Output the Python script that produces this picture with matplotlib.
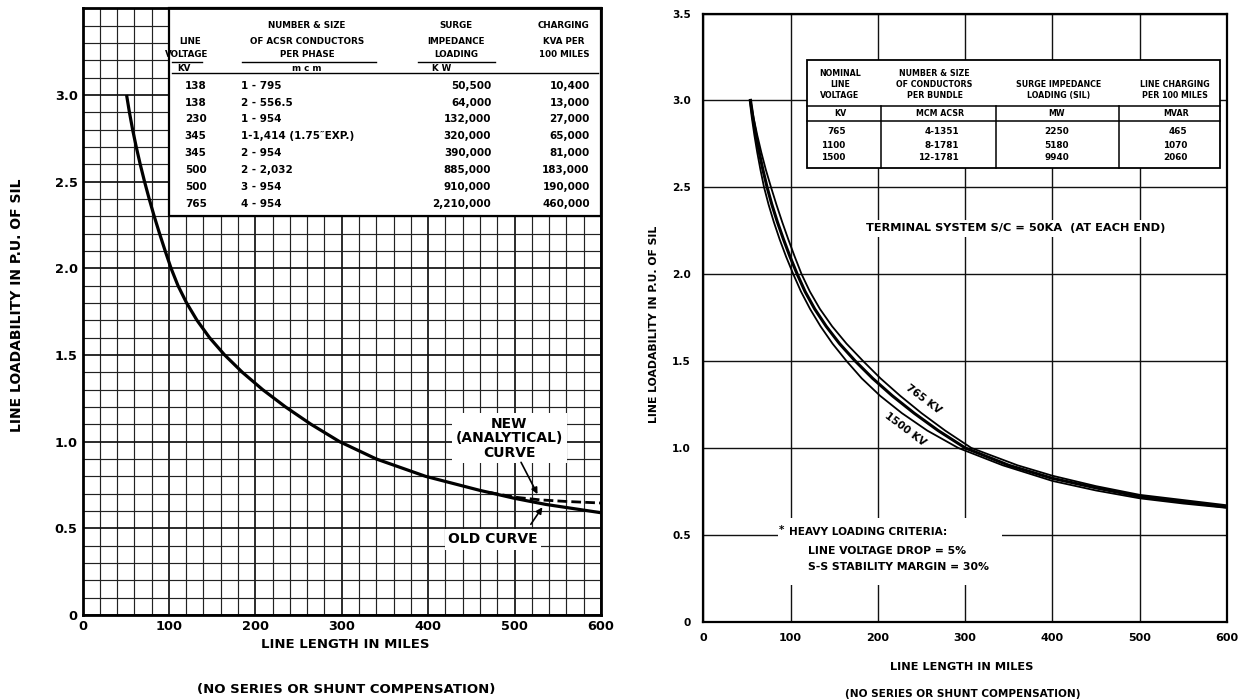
import matplotlib
matplotlib.use("Agg")
import matplotlib.pyplot as plt
from matplotlib.patches import Rectangle
from matplotlib.ticker import MultipleLocator

W, H = 1245, 700

# ---------------- LEFT CHART DATA ----------------
new_miles = [51, 54.3, 58, 62.2, 66.8, 71.8, 77.2, 83, 89.2, 95.7, 102.5, 110.5, 120.5, 132.5, 147, 164.5,
             185, 208.5, 235, 264.5, 297.5, 340, 397, 459, 500, 536, 600]
new_pu = [3.0, 2.9, 2.8, 2.7, 2.6, 2.5, 2.4, 2.3, 2.2, 2.1, 2.0, 1.9, 1.8, 1.7, 1.6, 1.5,
          1.4, 1.3, 1.2, 1.1, 1.0, 0.9, 0.8, 0.72, 0.673, 0.638, 0.59]
old_miles = [470, 500, 530, 560, 600]
old_pu = [0.708, 0.680, 0.664, 0.655, 0.646]

x_ticks = [0, 100, 200, 300, 400, 500, 600]
x_ticklabels = ["0", "100", "200", "300", "400", "500", "600"]
left_yticks = [0, 0.5, 1.0, 1.5, 2.0, 2.5, 3.0]
left_yticklabels = ["0", "0.5", "1.0", "1.5", "2.0", "2.5", "3.0"]

left_kv = ["138", "138", "230", "345", "345", "500", "500", "765"]
left_cond = ["1 - 795", "2 - 556.5", "1 - 954", "1-1,414 (1.75\u2033EXP.)", "2 - 954", "2 - 2,032",
             "3 - 954", "4 - 954"]
left_sil = ["50,500", "64,000", "132,000", "320,000", "390,000", "885,000", "910,000", "2,210,000"]
left_chg = ["10,400", "13,000", "27,000", "65,000", "81,000", "183,000", "190,000", "460,000"]

# ---------------- RIGHT CHART DATA ----------------
kv765_miles = [54, 57.5, 61.7, 66.4, 71.6, 77.5, 83.7, 90.3, 97.3, 104.7, 112.5, 122, 133.5, 147.5, 164, 183,
               203, 225.5, 250, 277, 307, 360, 400, 450, 500, 550, 600]
kv765_pu = [3.0, 2.9, 2.8, 2.7, 2.6, 2.5, 2.4, 2.3, 2.2, 2.1, 2.0, 1.9, 1.8, 1.7, 1.6, 1.5,
            1.4, 1.3, 1.2, 1.1, 1.0, 0.9, 0.84, 0.78, 0.73, 0.70, 0.67]
kv1100_miles = [54, 56.8, 60.2, 64, 68.2, 73, 78.5, 84.8, 91.8, 99.3, 107.5, 116.5, 127.5, 140.7, 156, 174,
                194, 216.5, 241.5, 269, 300, 350, 400, 450, 500, 550, 600]
kv1100_pu = [3.0, 2.9, 2.8, 2.7, 2.6, 2.5, 2.4, 2.3, 2.2, 2.1, 2.0, 1.9, 1.8, 1.7, 1.6, 1.5,
             1.4, 1.3, 1.2, 1.1, 1.0, 0.9, 0.825, 0.77, 0.72, 0.69, 0.66]
kv1500_miles = [53, 55.5, 58.4, 61.7, 65.4, 69.5, 74.7, 80.7, 87.4, 94.8, 103, 111.8, 122.2, 134.2, 148, 164,
                181.5, 202.5, 227.5, 256.5, 292, 343, 400, 450, 500, 550, 600]
kv1500_pu = [3.0, 2.9, 2.8, 2.7, 2.6, 2.5, 2.4, 2.3, 2.2, 2.1, 2.0, 1.9, 1.8, 1.7, 1.6, 1.5,
             1.4, 1.3, 1.2, 1.1, 1.0, 0.9, 0.81, 0.755, 0.71, 0.68, 0.655]

right_yticks = [0, 0.5, 1.0, 1.5, 2.0, 2.5, 3.0, 3.5]
right_yticklabels = ["0", "0.5", "1.0", "1.5", "2.0", "2.5", "3.0", "3.5"]

right_kv = ["765", "1100", "1500"]
right_cond = ["4-1351", "8-1781", "12-1781"]
right_sil = ["2250", "5180", "9940"]
right_mvar = ["465", "1070", "2060"]

plt.rcParams['font.family'] = ['DejaVu Sans']
plt.rcParams['font.weight'] = 'bold'

fig = plt.figure(figsize=(W / 100, H / 100), dpi=100)


def px_axes(x0, x1, y0, y1):
    return fig.add_axes([x0 / W, 1 - y1 / H, (x1 - x0) / W, (y1 - y0) / H])


def fig_text(px, py, s, **kw):
    fig.text(px / W, 1 - py / H, s, ha='center', va='center', fontweight='bold', **kw)


# =============== LEFT CHART ===============
axL = px_axes(82.5, 601, 8.3, 615)
axL.set_xlim(0, 600)
axL.set_ylim(0, 3.5)
axL.set_xticks(x_ticks)
axL.set_xticklabels(x_ticklabels, fontsize=9.3, fontweight='bold')
axL.set_yticks(left_yticks)
axL.set_yticklabels(left_yticklabels, fontsize=9.3, fontweight='bold')
axL.xaxis.set_minor_locator(MultipleLocator(20))
axL.yaxis.set_minor_locator(MultipleLocator(0.1))
axL.tick_params(which='both', length=0)
axL.tick_params(axis='x', pad=3.5)
axL.tick_params(axis='y', pad=3.5)
axL.set_axisbelow(True)
axL.grid(which='major', color='#111111', lw=1.25)
axL.grid(which='minor', color='#222222', lw=0.85)
for s in axL.spines.values():
    s.set_linewidth(2.0)

axL.plot(new_miles, new_pu, color='black', lw=2.3, zorder=4, solid_capstyle='butt',
         solid_joinstyle='round')
axL.plot(old_miles, old_pu, color='black', lw=2.0, ls=(0, (3.5, 1.5)), zorder=4)

# table
axL.add_patch(Rectangle((100, 2.3), 500, 1.2, fc='white', ec='black', lw=1.6, zorder=2, clip_on=False))
hdr_kw = dict(fontsize=6.3, fontweight='bold', ha='center', va='center', zorder=3)
axL.text(124, 3.31, "LINE", **hdr_kw)
axL.text(121, 3.235, "VOLTAGE", **hdr_kw)
axL.text(260, 3.40, "NUMBER & SIZE", **hdr_kw)
axL.text(260, 3.31, "OF ACSR CONDUCTORS", **hdr_kw)
axL.text(260, 3.235, "PER PHASE", **hdr_kw)
axL.text(432, 3.40, "SURGE", **hdr_kw)
axL.text(432, 3.31, "IMPEDANCE", **hdr_kw)
axL.text(432, 3.235, "LOADING", **hdr_kw)
axL.text(557, 3.40, "CHARGING", **hdr_kw)
axL.text(557, 3.31, "KVA PER", **hdr_kw)
axL.text(557, 3.235, "100 MILES", **hdr_kw)
axL.text(117, 3.155, "KV", **hdr_kw)
axL.text(260, 3.155, "m c m", **hdr_kw)
axL.text(416, 3.155, "K W", **hdr_kw)
for x0, x1 in [(104, 138), (185, 340), (388, 477)]:
    axL.plot([x0, x1], [3.19, 3.19], color='black', lw=1.0, zorder=3)
axL.plot([104, 597], [3.127, 3.127], color='black', lw=1.0, zorder=3)

row_y = [3.05, 2.955, 2.86, 2.765, 2.665, 2.57, 2.47, 2.37]
dat_kw = dict(fontsize=7.5, fontweight='bold', va='center', zorder=3)
for i, y in enumerate(row_y):
    axL.text(131, y, left_kv[i], ha='center', **dat_kw)
    axL.text(183, y, left_cond[i], ha='left', **dat_kw)
    axL.text(473, y, left_sil[i], ha='right', **dat_kw)
    axL.text(587, y, left_chg[i], ha='right', **dat_kw)

# annotations
box = dict(boxstyle='square,pad=0.25', fc='white', ec='none')
axL.text(494, 1.02, "NEW\n(ANALYTICAL)\nCURVE", ha='center', va='center', fontsize=10,
         fontweight='bold', linespacing=1.05, bbox=box, zorder=3)
axL.text(475, 0.437, "OLD CURVE", ha='center', va='center', fontsize=10, fontweight='bold',
         bbox=box, zorder=3)
axL.annotate("", xy=(528, 0.683), xytext=(506, 0.895),
             arrowprops=dict(arrowstyle='-|>', color='black', lw=1.2, mutation_scale=9), zorder=5)
axL.annotate("", xy=(534, 0.635), xytext=(517, 0.51),
             arrowprops=dict(arrowstyle='-|>', color='black', lw=1.2, mutation_scale=9), zorder=5)

fig_text(17, 305, "LINE LOADABILITY IN P.U. OF SIL", fontsize=10, rotation=90)
fig_text(345, 645, "LINE LENGTH IN MILES", fontsize=9.5)
fig_text(346, 689, "(NO SERIES OR SHUNT COMPENSATION)", fontsize=9.5)

# =============== RIGHT CHART ===============
axR = px_axes(703.4, 1227, 13.5, 621.7)
axR.set_xlim(0, 600)
axR.set_ylim(0, 3.5)
axR.set_xticks(x_ticks)
axR.set_xticklabels(x_ticklabels, fontsize=8, fontweight='bold')
axR.set_yticks(right_yticks)
axR.set_yticklabels(right_yticklabels, fontsize=7.6, fontweight='bold')
axR.tick_params(which='both', length=0)
axR.tick_params(axis='x', pad=8)
axR.tick_params(axis='y', pad=9)
axR.set_axisbelow(True)
axR.grid(which='major', color='#111111', lw=1.0)
for s in axR.spines.values():
    s.set_linewidth(1.6)

for xs, ys, lw in [(kv765_miles, kv765_pu, 1.3), (kv1100_miles, kv1100_pu, 2.2),
                   (kv1500_miles, kv1500_pu, 1.3)]:
    axR.plot(xs, ys, color='black', lw=lw, zorder=4, solid_joinstyle='round')

axR.text(252, 1.28, "765 KV", rotation=-37, ha='center', va='center', fontsize=7.5,
         fontweight='bold', zorder=5)
axR.text(231, 1.11, "1500 KV", rotation=-37, ha='center', va='center', fontsize=7.5,
         fontweight='bold', zorder=5)

# table
tx0, tx1, ty0, ty1 = 119, 592, 2.61, 3.233
axR.add_patch(Rectangle((tx0, ty0), tx1 - tx0, ty1 - ty0, fc='white', ec='black', lw=1.3, zorder=2))
axR.plot([tx0, tx1], [2.968, 2.968], color='black', lw=1.1, zorder=3)
axR.plot([tx0, tx1], [2.883, 2.883], color='black', lw=1.1, zorder=3)
for xd in [204, 335, 476]:
    axR.plot([xd, xd], [ty0, 2.968], color='black', lw=1.1, zorder=3)
rh = dict(fontsize=5.7, fontweight='bold', ha='center', va='center', zorder=3)
for txt, y in zip(["NOMINAL", "LINE", "VOLTAGE"], [3.156, 3.093, 3.027]):
    axR.text(156.5, y, txt, **rh)
for txt, y in zip(["NUMBER & SIZE", "OF CONDUCTORS", "PER BUNDLE"], [3.156, 3.093, 3.027]):
    axR.text(265, y, txt, **rh)
for txt, y in zip(["SURGE IMPEDANCE", "LOADING (SIL)"], [3.093, 3.027]):
    axR.text(406.7, y, txt, **rh)
for txt, y in zip(["LINE CHARGING", "PER 100 MILES"], [3.093, 3.027]):
    axR.text(540, y, txt, **rh)
for txt, x in zip(["KV", "MCM ACSR", "MW", "MVAR"], [156.5, 271, 405, 542]):
    axR.text(x, 2.926, txt, **rh)
rd = dict(fontsize=6.4, fontweight='bold', va='center', zorder=3)
for i, y in enumerate([2.82, 2.743, 2.67]):
    axR.text(163, y, right_kv[i], ha='right', **rd)
    axR.text(293, y, right_cond[i], ha='right', **rd)
    axR.text(405, y, right_sil[i], ha='center', **rd)
    axR.text(555, y, right_mvar[i], ha='right', **rd)

axR.text(358, 2.265, "TERMINAL SYSTEM S/C = 50KA  (AT EACH END)", ha='center', va='center',
         fontsize=8.2, fontweight='bold', zorder=3,
         bbox=dict(boxstyle='square,pad=0.3', fc='white', ec='none'))

axR.add_patch(Rectangle((86, 0.21), 256, 0.387, fc='white', ec='none', zorder=2))
axR.text(87, 0.53, "*", ha='left', va='center', fontsize=7.5, fontweight='bold', zorder=3)
axR.text(98, 0.515, "HEAVY LOADING CRITERIA:", ha='left', va='center', fontsize=7.6,
         fontweight='bold', zorder=3)
axR.text(120, 0.409, "LINE VOLTAGE DROP = 5%", ha='left', va='center', fontsize=7.8,
         fontweight='bold', zorder=3)
axR.text(120, 0.313, "S-S STABILITY MARGIN = 30%", ha='left', va='center', fontsize=7.8,
         fontweight='bold', zorder=3)

fig_text(654, 324, "LINE LOADABILITY IN P.U. OF SIL", fontsize=7.8, rotation=90)
fig_text(962, 667, "LINE LENGTH IN MILES", fontsize=8.2)
fig_text(963, 694, "(NO SERIES OR SHUNT COMPENSATION)", fontsize=7.6)

fig.savefig("out.png", dpi=100, facecolor='white')
